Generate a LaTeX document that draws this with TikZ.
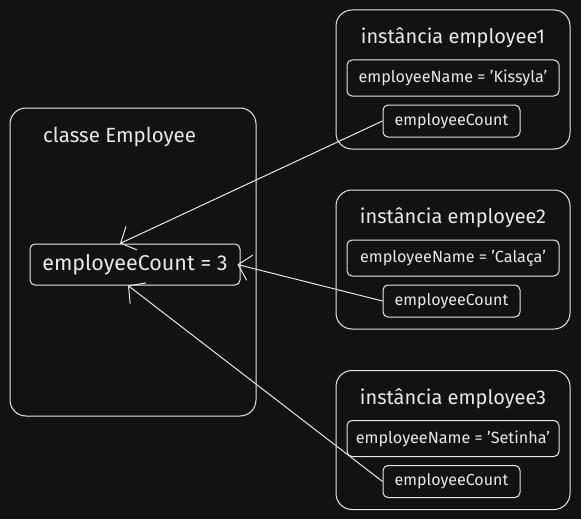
\documentclass[tikz,border=0pt]{standalone}
\usepackage{fontspec}
\setmainfont{Fira Sans}
\usetikzlibrary{arrows.meta}
\usetikzlibrary{positioning}
\definecolor{fundo}{HTML}{121212}
\definecolor{traco}{HTML}{E8E8E8}
\tikzset{
    caixa/.style={draw=traco, line width=1pt, rounded corners=16pt, inner sep=0pt},
    campo/.style={draw=traco, line width=1pt, rounded corners=5pt, inner sep=0pt, text=traco},
    titulo/.style={text=traco, inner sep=0pt, font=\fontsize{20}{24}\selectfont},
    seta/.style={draw=traco, line width=1pt, -{Straight Barb[length=12pt,width=26pt,line width=1pt]}}
}
\begin{document}
\begin{tikzpicture}[x=1pt,y=-1pt]
    % Fundo
    \fill[fundo] (0,0) rectangle (581,519);
    \useasboundingbox (0,0) rectangle (581,519);

    % Classe
    \node[caixa, minimum width=246pt, minimum height=308pt] (classe) at (133,262) {};
    \node[titulo, anchor=west, font=\fontsize{20.5}{24}\selectfont] (tclasse) at (43,137) {classe Employee};
    \node[campo, minimum width=210pt, minimum height=41pt,
          font=\fontsize{21.5}{25}\selectfont] (cc) at (135,264.5) {employeeCount = 3};

    % Instancias
    \foreach \n/\y/\nome in {1/79.5/Kissyla, 2/259.5/Calaça, 3/440/Setinha}{
        \node[caixa, minimum width=234pt, minimum height=139pt] (i\n) at (453,\y) {};
        \node[titulo] (t\n) at (453,\y-41.5) {instância employee\n};
        \node[campo, minimum width=212pt, minimum height=36pt,
              font=\fontsize{16.2}{19}\selectfont] (i\n n) at (453,\y-1.5) {employeeName = '\nome'};
        \node[campo, minimum width=137pt, minimum height=32pt,
              font=\fontsize{16}{19}\selectfont] (i\n c) at (451.5,\y+41.5) {employeeCount};
    }

    % Setas
    \draw[seta] (i1c.west) -- ([xshift=-15pt]cc.north);
    \draw[seta] (i2c.west) -- ([xshift=-3pt]cc.east);
    \draw[seta] (i3c.west) -- ([xshift=-7pt]cc.south);
\end{tikzpicture}
\end{document}
